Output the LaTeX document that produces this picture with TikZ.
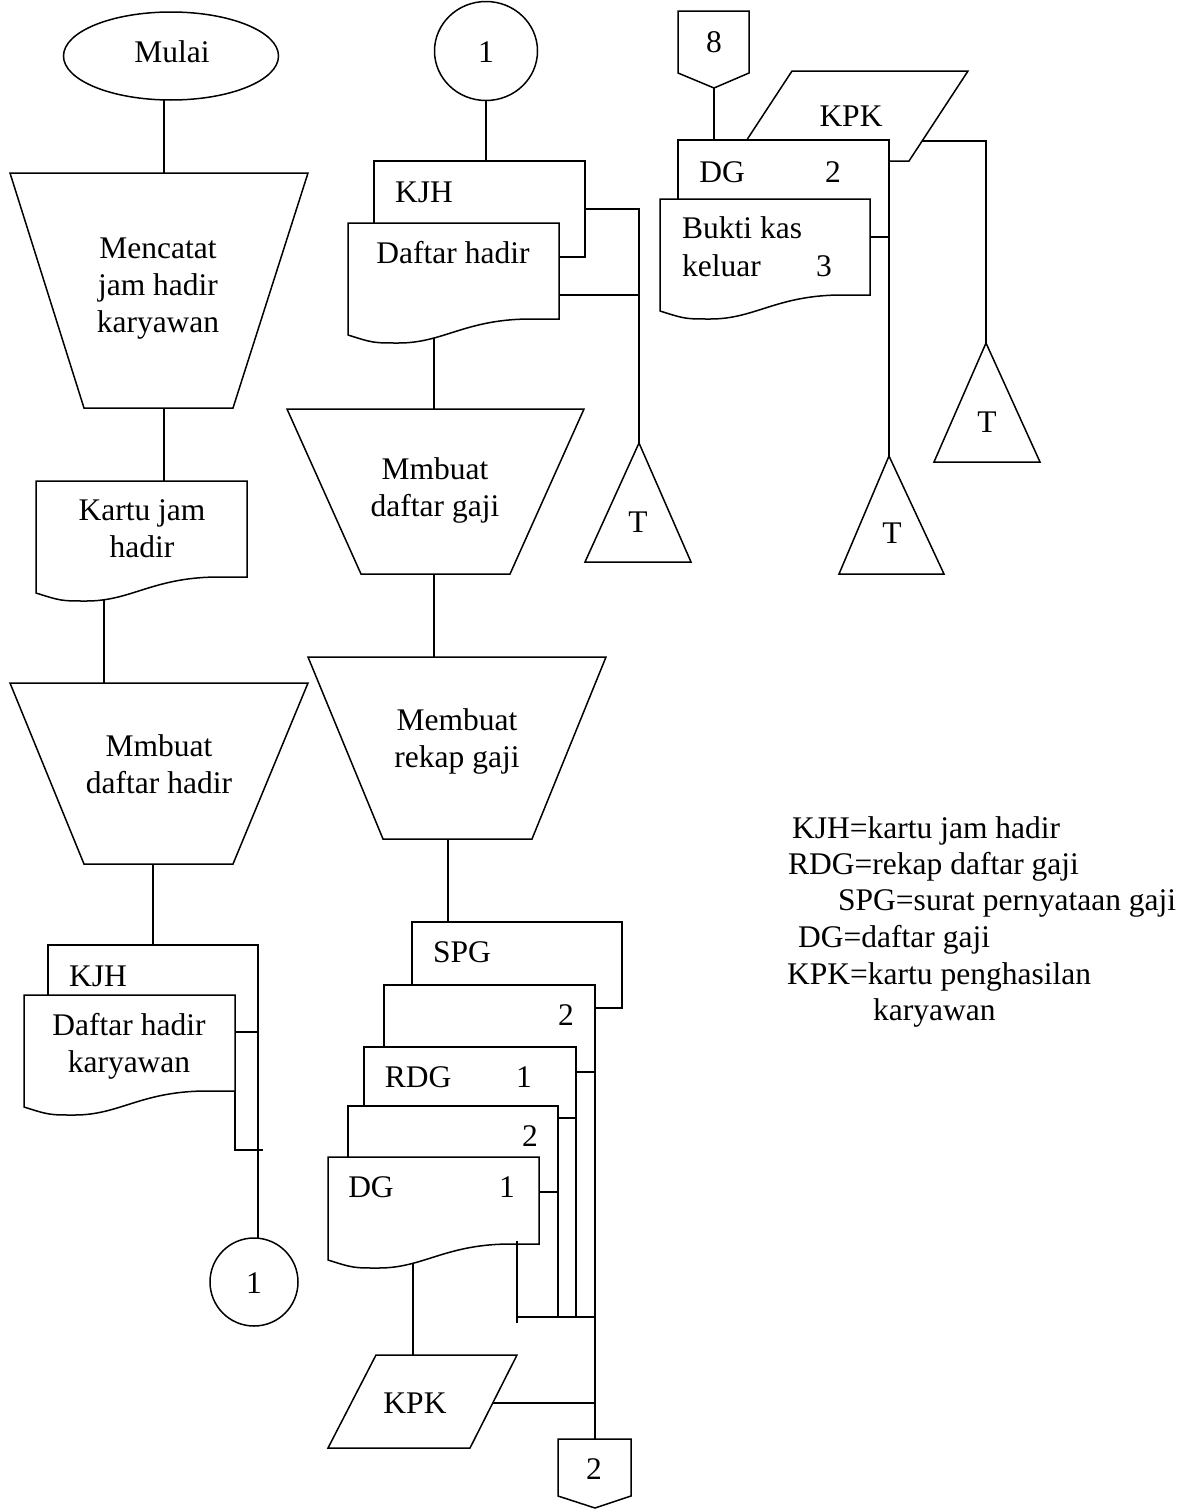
\documentclass[tikz,border=0pt]{standalone}
\usepackage{fontspec}
\setmainfont{Liberation Serif}
\usetikzlibrary{shapes.geometric,calc}
\pgfdeclarelayer{bg}
\pgfdeclarelayer{mid}
\pgfsetlayers{bg,mid,main}
\newcommand{\docshape}[4]{%
  \pgfmathsetmacro{\dw}{#3-#1}%
  \draw[shp] (#1,#2) -- (#3,#2) -- (#3,#4) -- ({#3-0.15*\dw},#4)
    .. controls ({#3-0.45*\dw},{#4+1}) and ({#1+0.45*\dw},{#4+24}) .. ({#1+0.24*\dw},{#4+24})
    .. controls ({#1+0.12*\dw},{#4+24}) .. (#1,{#4+16}) -- cycle;
}
\tikzset{
  txt/.style={font=\fontsize{31.5}{37}\selectfont, inner sep=0pt, anchor=base},
  ltxt/.style={txt, anchor=base west},
  shp/.style={draw, fill=white, line width=1.5pt},
  ln/.style={line width=1.5pt},
}
\begin{document}
\begin{tikzpicture}[x=1pt,y=-1pt]
\useasboundingbox (0,0) rectangle (1194,1510);

% ---------------- named coordinates ----------------
\coordinate (mulaiS) at (164,100);
\coordinate (trapAN) at (164,173);
\coordinate (trapAS) at (164,408);
\coordinate (kartuN) at (164,481);
\coordinate (kartuS) at (104,590);
\coordinate (trapBN) at (104,683);
\coordinate (trapBS) at (153,864);
\coordinate (kjhAN) at (153,945);
\coordinate (kjhAR) at (258,1032);
\coordinate (dhkR) at (235,1032);
\coordinate (dhkBR) at (235,1091);
\coordinate (dhkT1) at (235,1150);
\coordinate (dhkT2) at (263,1150);
\coordinate (cirBN) at (258,1238);

\coordinate (cirTS) at (486,101);
\coordinate (kjhBN) at (486,161);
\coordinate (kjhBR) at (585,209);
\coordinate (dhR) at (559,295);
\coordinate (tAcorner) at (639,209);
\coordinate (tAmid) at (639,295);
\coordinate (triA) at (639,443);
\coordinate (dhS) at (434,330);
\coordinate (trapCN) at (434,409);
\coordinate (trapCS) at (434,574);
\coordinate (trapDN) at (434,657);
\coordinate (trapDS) at (448,839);
\coordinate (spgN) at (448,922);

\coordinate (d2R) at (595,1072);
\coordinate (rdgR) at (576,1072);
\coordinate (rdgR2) at (576,1118);
\coordinate (d2bR) at (558,1118);
\coordinate (d2bR2) at (558,1192);
\coordinate (dgR) at (539,1192);
\coordinate (busA) at (576,1317);
\coordinate (busB) at (558,1317);
\coordinate (busC) at (595,1317);
\coordinate (busL) at (517,1317);
\coordinate (dgV1) at (517,1241);
\coordinate (dgV2) at (517,1323);
\coordinate (dgS) at (413,1260);
\coordinate (kpkN) at (413,1355);
\coordinate (kpkR) at (493,1403);
\coordinate (kpkJ) at (595,1403);
\coordinate (offN) at (595,1439);

\coordinate (eightS) at (714,88);
\coordinate (dgtN) at (714,140);
\coordinate (dgtR) at (889,237);
\coordinate (bukR) at (870,237);
\coordinate (triB) at (889,456);
\coordinate (kpktR) at (922,141);
\coordinate (kpktC) at (986,141);
\coordinate (triC) at (986,343);

% ---------------- connectors ----------------
\begin{pgfonlayer}{bg}
\fill[white] (0,0) rectangle (1194,1510);
\draw[ln] (mulaiS) -- (trapAN);
\draw[ln] (trapAS) -- (kartuN);
\draw[ln] (kartuS) -- (trapBN);
\draw[ln] (trapBS) -- (kjhAN);
\draw[ln] (kjhAR) -- (cirBN);
\draw[ln] (dhkR) -- (kjhAR);
\draw[ln] (dhkBR) -- (dhkT1) -- (dhkT2);

\draw[ln] (cirTS) -- (kjhBN);
\draw[ln] (kjhBR) -- (tAcorner) -- (triA);
\draw[ln] (dhR) -- (tAmid);
\draw[ln] (dhS) -- (trapCN);
\draw[ln] (trapCS) -- (trapDN);
\draw[ln] (trapDS) -- (spgN);

\draw[ln] (d2R) -- (offN);
\draw[ln] (rdgR) -- (d2R);
\draw[ln] (rdgR2) -- (busA);
\draw[ln] (d2bR) -- (rdgR2);
\draw[ln] (d2bR2) -- (busB);
\draw[ln] (dgR) -- (d2bR2);
\draw[ln] (busL) -- (busC);
\draw[ln] (dgS) -- (kpkN);
\draw[ln] (kpkR) -- (kpkJ);

\draw[ln] (eightS) -- (dgtN);
\draw[ln] (bukR) -- (dgtR) -- (triB);
\draw[ln] (kpktR) -- (kpktC) -- (triC);
\end{pgfonlayer}

% ---------------- shapes ----------------
\begin{pgfonlayer}{mid}
\node[shp, ellipse, minimum width=215, minimum height=88, inner sep=0pt] (mulai) at (171,56) {};
\draw[shp] (10,173) -- (308,173) -- (233,408) -- (84,408) -- cycle;
\docshape{36}{481}{247}{577}
\draw[shp] (10,683) -- (308,683) -- (233,864) -- (84,864) -- cycle;
\draw[shp] (48,945) rectangle (258,1032);
\docshape{24}{995}{235}{1091}
\node[shp, circle, minimum size=88, inner sep=0pt] (cirB) at (254,1282) {};

\node[shp, ellipse, minimum width=103, minimum height=99, inner sep=0pt] (cirT) at (486,51) {};
\draw[shp] (374,161) rectangle (585,257);
\docshape{348}{223}{559}{319}
\draw[shp] (287,409) -- (584,409) -- (510,574) -- (361,574) -- cycle;
\draw[shp] (308,657) -- (606,657) -- (532,839) -- (383,839) -- cycle;
\draw[shp] (639,443) -- (691,562) -- (585,562) -- cycle;

\draw[shp] (412,922) rectangle (622,1008);
\draw[shp] (384,985) rectangle (595,1072);
\draw[shp] (364,1047) rectangle (576,1118);
\draw[shp] (348,1106) rectangle (558,1192);
\docshape{328}{1157}{539}{1244}
\draw[shp] (376,1355) -- (517,1355) -- (470,1448) -- (328,1448) -- cycle;
\draw[shp] (558,1439) -- (631,1439) -- (631,1496) -- (595,1508) -- (558,1496) -- cycle;

\draw[shp] (678,11) -- (749,11) -- (749,73) -- (714,88) -- (678,73) -- cycle;
\draw[shp] (792,71) -- (968,71) -- (909,161) -- (733,161) -- cycle;
\draw[shp] (678,140) rectangle (889,237);
\docshape{660}{199}{870}{295}
\draw[shp] (986,343) -- (1040,462) -- (934,462) -- cycle;
\draw[shp] (889,456) -- (944,574) -- (839,574) -- cycle;
\end{pgfonlayer}

\draw[ln] (dgV1) -- (dgV2);

% ---------------- texts ----------------
\node[txt] (tMulai) at (172,62) {Mulai};
\node[txt] (tA1) at (158,258) {Mencatat};
\node[txt] (tA2) at (158,295) {jam hadir};
\node[txt] (tA3) at (158,332) {karyawan};
\node[txt] (tK1) at (142,520) {Kartu jam};
\node[txt] (tK2) at (142,557) {hadir};
\node[txt] (tB1) at (159,756) {Mmbuat};
\node[txt] (tB2) at (159,793) {daftar hadir};
\node[txt] (tKJHa) at (98,986) {KJH};
\node[txt] (tD1) at (129,1035) {Daftar hadir};
\node[txt] (tD2) at (129,1072) {karyawan};
\node[txt] (tC1) at (254,1293) {1};

\node[txt] (tC2) at (486,62) {1};
\node[txt] (tKJHb) at (424,202) {KJH};
\node[txt] (tDH) at (453,263) {Daftar hadir};
\node[txt] (tE1) at (435,479) {Mmbuat};
\node[txt] (tE2) at (435,516) {daftar gaji};
\node[txt] (tF1) at (457,730) {Membuat};
\node[txt] (tF2) at (457,767) {rekap gaji};
\node[txt] (tT1) at (638,532) {T};

\node[txt] (tSPG) at (462,962) {SPG};
\node[txt] (tS2) at (566,1025) {2};
\node[txt] (tRDG) at (418,1087) {RDG};
\node[txt] (tR1) at (524,1087) {1};
\node[txt] (tR2) at (530,1146) {2};
\node[txt] (tDG) at (371,1197) {DG};
\node[txt] (tDG1) at (507,1197) {1};
\node[txt] (tKPKb) at (415,1413) {KPK};
\node[txt] (tOff) at (594,1479) {2};

\node[txt] (t8) at (714,52) {8};
\node[txt] (tKPKt) at (851,126) {KPK};
\node[txt] (tDGt) at (722,182) {DG};
\node[txt] (tDGt2) at (833,182) {2};
\node[ltxt] (tBk1) at (682,238) {Bukti kas};
\node[ltxt] (tBk2) at (682,276) {keluar};
\node[txt] (tBk3) at (824,276) {3};
\node[txt] (tT2) at (987,432) {T};
\node[txt] (tT3) at (892,543) {T};

\node[ltxt] (L1) at (792,838) {KJH=kartu jam hadir};
\node[ltxt] (L2) at (788,874) {RDG=rekap daftar gaji};
\node[ltxt] (L3) at (838,910) {SPG=surat pernyataan gaji};
\node[ltxt] (L4) at (798,947) {DG=daftar gaji};
\node[ltxt] (L5) at (787,984) {KPK=kartu penghasilan};
\node[ltxt] (L6) at (873,1020) {karyawan};
\end{tikzpicture}
\end{document}
